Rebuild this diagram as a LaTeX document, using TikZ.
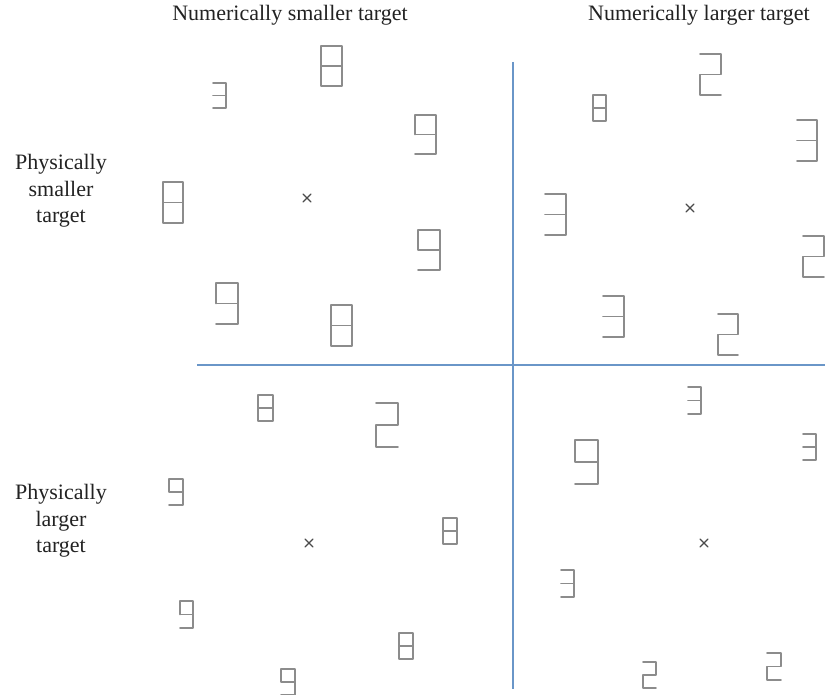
\documentclass[tikz,border=0pt]{standalone}
\usepackage{fontspec}
\setmainfont{Liberation Serif}
\definecolor{digitgray}{HTML}{8C8C8C}
\definecolor{axisblue}{HTML}{6A96C8}
\definecolor{labelgray}{HTML}{222222}
\definecolor{markgray}{HTML}{4A4A4A}
\newcommand\dEight[4]{\draw[dig] (#1,#2) rectangle (#3,#4) (#1,{(#2+#4)/2}) -- (#3,{(#2+#4)/2});}
\newcommand\dNine[4]{\draw[dig] (#1,{(#2+#4)/2}) -- (#1,#2) -- (#3,#2) -- (#3,#4) -- (#1,#4) (#1,{(#2+#4)/2}) -- (#3,{(#2+#4)/2});}
\newcommand\dThree[4]{\draw[dig] (#1,#2) -- (#3,#2) -- (#3,#4) -- (#1,#4) (#1,{(#2+#4)/2}) -- (#3,{(#2+#4)/2});}
\newcommand\dTwo[4]{\draw[dig] (#1,#2) -- (#3,#2) -- (#3,{(#2+#4)/2}) -- (#1,{(#2+#4)/2}) -- (#1,#4) -- (#3,#4);}
\newcommand\fixmark[2]{\draw[fixm] (#1-4,#2-4) -- (#1+4,#2+4) (#1-4,#2+4) -- (#1+4,#2-4);}
\begin{document}
\begin{tikzpicture}[x=1pt,y=-1pt,
  dig/.style={draw=digitgray, line width=1.6pt, line cap=round, line join=round},
  fixm/.style={draw=markgray, line width=1.3pt, line cap=round},
  axis/.style={draw=axisblue, line width=2.6pt},
  lbl/.style={text=labelgray, font=\fontsize{22}{26.5}\selectfont, inner sep=0pt, align=center}]
\useasboundingbox (0,0) rectangle (833,695);
% axes
\coordinate (vtop) at (513,62);
\coordinate (vbot) at (513,689);
\coordinate (hl) at (197,365);
\coordinate (hr) at (825,365);
\draw[axis] (vtop) -- (vbot);
\draw[axis] (hl) -- (hr);
% labels
\node[lbl] (ns) at (290,15) {Numerically smaller target};
\node[lbl] (nl) at (699,15) {Numerically larger target};
\node[lbl] (ps) at (61,191) {Physically\\smaller\\target};
\node[lbl] (pl) at (61,521) {Physically\\larger\\target};
% top-left quadrant
\dThree{213}{83}{226}{108}
\dEight{321}{46}{342}{86}
\dNine{415}{115}{436}{154}
\dEight{163}{182}{183}{223}
\dNine{418}{230}{440}{270}
\dNine{216}{283}{238}{324}
\dEight{331}{305}{352}{346}
\fixmark{307}{198}
% top-right quadrant
\dEight{593}{95}{606}{121}
\dTwo{700}{54}{721}{95}
\dThree{797}{120}{817}{161}
\dThree{545}{194}{566}{235}
\dTwo{803}{236}{824}{277}
\dThree{603}{296}{624}{337}
\dTwo{718}{314}{738}{355}
\fixmark{690}{208}
% bottom-left quadrant
\dEight{258}{395}{273}{421}
\dTwo{376}{403}{398}{447}
\dNine{169}{479}{183}{505}
\dEight{443}{518}{457}{544}
\dNine{180}{601}{193}{628}
\dEight{399}{633}{413}{659}
\dNine{281}{669}{295}{695}
\fixmark{309}{543}
% bottom-right quadrant
\dThree{688}{387}{701}{414}
\dNine{575}{440}{598}{484}
\dThree{803}{434}{816}{460}
\dThree{561}{570}{574}{597}
\dTwo{643}{662}{656}{688}
\dTwo{767}{653}{781}{680}
\fixmark{704}{543}
\end{tikzpicture}
\end{document}
